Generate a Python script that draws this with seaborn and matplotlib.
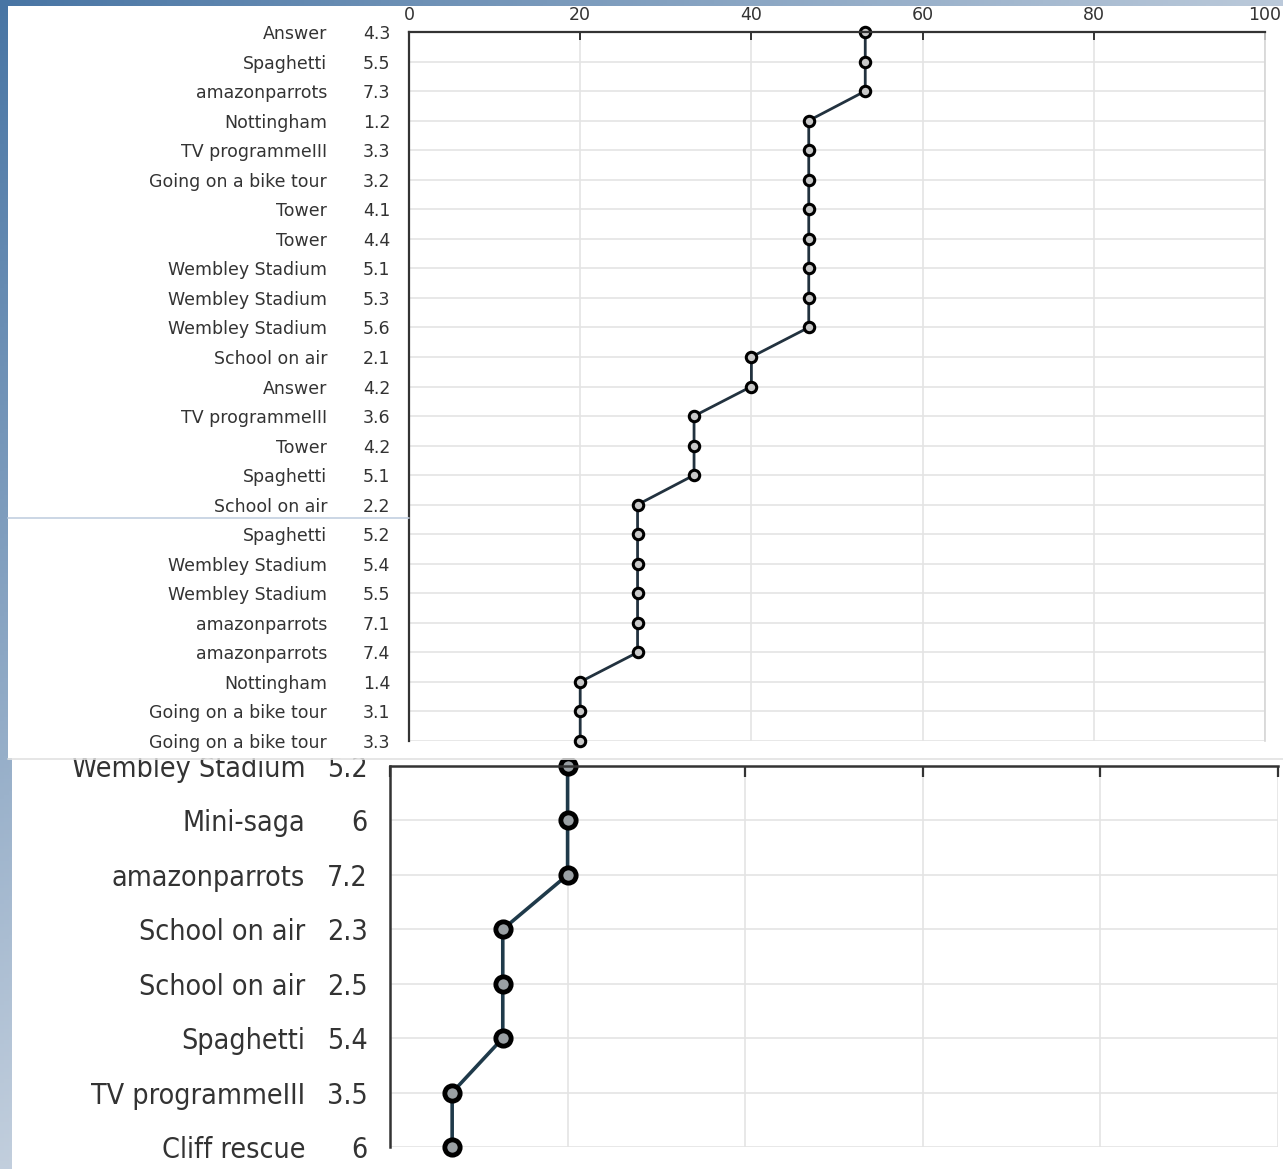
import numpy as np
import pandas as pd
import matplotlib
matplotlib.use("Agg")
import matplotlib.pyplot as plt
import matplotlib.transforms as mtrans
from matplotlib.patches import Rectangle
from matplotlib.lines import Line2D
from matplotlib import font_manager
import seaborn as sns

# ---------------- data ----------------
top_names = ["Answer", "Spaghetti", "amazonparrots", "Nottingham", "TV programmeIII",
             "Going on a bike tour", "Tower", "Tower", "Wembley Stadium", "Wembley Stadium",
             "Wembley Stadium", "School on air", "Answer", "TV programmeIII", "Tower",
             "Spaghetti", "School on air", "Spaghetti", "Wembley Stadium", "Wembley Stadium",
             "amazonparrots", "amazonparrots", "Nottingham", "Going on a bike tour",
             "Going on a bike tour"]
top_codes = ["4.3", "5.5", "7.3", "1.2", "3.3", "3.2", "4.1", "4.4", "5.1", "5.3",
             "5.6", "2.1", "4.2", "3.6", "4.2", "5.1", "2.2", "5.2", "5.4", "5.5",
             "7.1", "7.4", "1.4", "3.1", "3.3"]
top_values = [53.3, 53.3, 53.3, 46.7, 46.7, 46.7, 46.7, 46.7, 46.7, 46.7,
              46.7, 40.0, 40.0, 33.3, 33.3, 33.3, 26.7, 26.7, 26.7, 26.7,
              26.7, 26.7, 20.0, 20.0, 20.0]

bot_names = ["Wembley Stadium", "Mini-saga", "amazonparrots", "School on air",
             "School on air", "Spaghetti", "TV programmeIII", "Cliff rescue"]
bot_codes = ["5.2", "6", "7.2", "2.3", "2.5", "5.4", "3.5", "6"]
bot_values = [20.0, 20.0, 20.0, 12.7, 12.7, 12.7, 7.0, 7.0]

x_ticks = [0, 20, 40, 60, 80, 100]

# ---------------- style ----------------
sns.set_style("white")
plt.rcParams["font.family"] = ["DejaVu Sans"]

W, H = 1283, 1169
fig = plt.figure(figsize=(W / 100, H / 100), dpi=100)

def fx(px):
    return px / W

def fy(py):
    return 1 - py / H

# gradient background
bg = fig.add_axes([0, 0, 1, 1], zorder=-10)
xx, yy = np.meshgrid(np.linspace(0, 1, 300), np.linspace(0, 1, 300))
t = np.clip(0.9 * xx + 0.95 * yy, 0, 1)
c0 = np.array([0x48, 0x75, 0xa4]) / 255
c1 = np.array([0xc8, 0xd3, 0xe0]) / 255
img = c0[None, None, :] * (1 - t[..., None]) + c1[None, None, :] * t[..., None]
bg.imshow(img, aspect="auto", extent=[0, 1, 1, 0])
bg.set_xlim(0, 1)
bg.set_ylim(1, 0)
bg.axis("off")

# white panels
fig.add_artist(Rectangle((fx(12), fy(1169)), fx(W - 12), (1169 - 758) / H,
                         transform=fig.transFigure, facecolor="white",
                         edgecolor="none", zorder=-5))
fig.add_artist(Rectangle((fx(8), fy(758)), fx(W - 8), (758 - 6) / H,
                         transform=fig.transFigure, facecolor="white",
                         edgecolor="none", zorder=1))
fig.add_artist(Line2D([fx(8), 1], [fy(759), fy(759)], transform=fig.transFigure,
                      color="#e2e2e2", lw=1.2, zorder=1.1))
fig.add_artist(Line2D([fx(8), fx(409)], [fy(518), fy(518)], transform=fig.transFigure,
                      color="#c2cfe0", lw=1.2, zorder=3))

# condensed font for bottom
avail = {f.name for f in font_manager.fontManager.ttflist}
if "Liberation Sans Narrow" in avail:
    narrow = dict(family="Liberation Sans Narrow", size=23)
else:
    narrow = dict(family="DejaVu Sans", stretch="condensed", size=20.5)

line_col = "#22323f"
txt_col = "#333333"
grid_col = "#e4e4e4"
top_fs = 12.5

# ---------------- bottom panel ----------------
axb = fig.add_axes([fx(390), fy(1147), fx(1278 - 390), (1147 - 766) / H], zorder=0)
axb.set_facecolor("none")
dfb = pd.DataFrame({"pct": bot_values, "row": np.arange(len(bot_values))})
sns.lineplot(data=dfb, x="pct", y="row", orient="y", ax=axb, color="#1f3a4a",
             lw=2.6, marker="o", markersize=11, markeredgewidth=3.5,
             markeredgecolor="black", markerfacecolor="#9aa0a4", clip_on=False)
axb.set_xlim(0, 100)
axb.set_ylim(len(bot_values) - 1, 0)
axb.set_xticks(x_ticks)
axb.set_yticks(np.arange(len(bot_values)))
axb.set_yticklabels(bot_codes, color=txt_col, **narrow)
axb.tick_params(axis="y", direction="in", length=10, width=1.6, pad=16, color="#333333")
axb.tick_params(axis="x", direction="in", length=8, width=1.6, top=True, bottom=False,
                labeltop=False, labelbottom=False, color="#333333")
axb.grid(True, color=grid_col, lw=1.2)
axb.set_axisbelow(True)
for s in ["right", "bottom"]:
    axb.spines[s].set_visible(False)
for s in ["left", "top"]:
    axb.spines[s].set_color("#333333")
    axb.spines[s].set_linewidth(1.8)
axb.set_xlabel("")
axb.set_ylabel("")
trb = mtrans.blended_transform_factory(fig.transFigure, axb.transData)
for i, n in enumerate(bot_names):
    axb.text(fx(305), i, n, transform=trb, ha="right", va="center_baseline",
             color=txt_col, clip_on=False, **narrow)

# ---------------- top panel ----------------
axt = fig.add_axes([fx(409), fy(741), fx(1265 - 409), (741 - 32) / H], zorder=2)
axt.set_facecolor("white")
dft = pd.DataFrame({"pct": top_values, "row": np.arange(len(top_values))})
sns.lineplot(data=dft, x="pct", y="row", orient="y", ax=axt, color=line_col,
             lw=2.0, marker="o", markersize=7.5, markeredgewidth=2.2,
             markeredgecolor="black", markerfacecolor="#c8c8c8", clip_on=False)
axt.set_xlim(0, 100)
axt.set_ylim(len(top_values) - 1, 0)
axt.set_xticks(x_ticks)
axt.set_xticklabels([str(v) for v in x_ticks], color=txt_col, fontsize=top_fs)
axt.set_yticks(np.arange(len(top_values)))
axt.set_yticklabels(top_codes, color=txt_col, fontsize=top_fs)
axt.tick_params(axis="y", direction="in", length=7, width=1.4, pad=13.5, color="#333333")
axt.tick_params(axis="x", direction="in", length=6, width=1.4, top=True, bottom=False,
                labeltop=True, labelbottom=False, pad=6, color="#333333")
axt.grid(True, color=grid_col, lw=1.2)
axt.set_axisbelow(True)
axt.spines["bottom"].set_visible(False)
axt.spines["right"].set_color("#d6d6d6")
axt.spines["right"].set_linewidth(1.2)
for s in ["left", "top"]:
    axt.spines[s].set_color("#333333")
    axt.spines[s].set_linewidth(1.6)
axt.set_xlabel("")
axt.set_ylabel("")
trt = mtrans.blended_transform_factory(fig.transFigure, axt.transData)
for i, n in enumerate(top_names):
    axt.text(fx(327), i, n, transform=trt, ha="right", va="center_baseline",
             color=txt_col, fontsize=top_fs, clip_on=False)

fig.savefig("out.png", dpi=100)
